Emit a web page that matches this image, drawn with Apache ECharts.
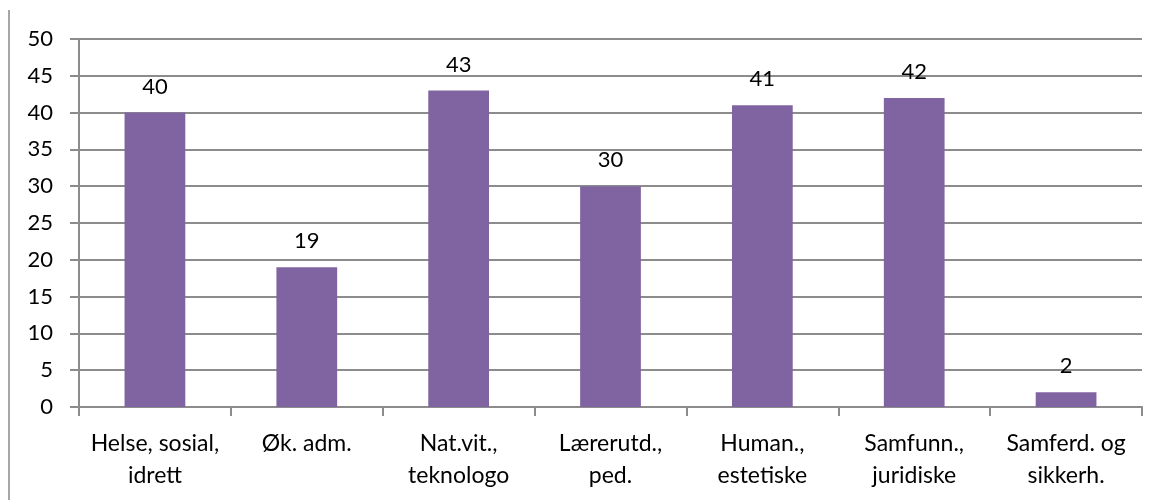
<!DOCTYPE html>
<html>
<head>
<meta charset="utf-8">
<script src="https://cdn.jsdelivr.net/npm/echarts@6/dist/echarts.min.js"></script>
<style>
  html, body { margin: 0; padding: 0; background: #fff; }
  #chart { width: 1160px; height: 500px; }
</style>
</head>
<body>
<div id="chart"></div>
<script>
// Fields of study and their counts
const categories = [
  'Helse, sosial,\nidrett',
  'Øk. adm.',
  'Nat.vit.,\nteknologo',
  'Lærerutd.,\nped.',
  'Human.,\nestetiske',
  'Samfunn.,\njuridiske',
  'Samferd. og\nsikkerh.'
];
const values = [40, 19, 43, 30, 41, 42, 2];
const yTicks = { min: 0, max: 50, interval: 5 };

const FONT = 'Lato, "Open Sans", sans-serif';
const GRID_COLOR = '#8c8c8c';

const chart = echarts.init(document.getElementById('chart'));
chart.setOption({
  backgroundColor: '#ffffff',
  animation: false,
  graphic: [{
    type: 'line',
    shape: { x1: 9, y1: 10, x2: 9, y2: 500 },
    style: { stroke: '#a6a6a6', lineWidth: 2 }
  }],
  grid: { left: 79, right: 18, top: 39, bottom: 93, containLabel: false },
  xAxis: {
    type: 'category',
    data: categories,
    axisLine: { show: true, lineStyle: { color: GRID_COLOR, width: 2 } },
    axisTick: { show: true, alignWithLabel: false, length: 9, lineStyle: { color: GRID_COLOR, width: 2 } },
    axisLabel: {
      interval: 0, color: '#000', fontFamily: FONT, fontSize: 23,
      lineHeight: 32, margin: 21
    }
  },
  yAxis: {
    type: 'value',
    min: yTicks.min, max: yTicks.max, interval: yTicks.interval,
    axisLine: { show: true, lineStyle: { color: GRID_COLOR, width: 2 } },
    axisTick: { show: true, length: 9, lineStyle: { color: GRID_COLOR, width: 2 } },
    axisLabel: { color: '#000', fontFamily: FONT, fontSize: 22, margin: 26 },
    splitLine: { show: true, lineStyle: { color: GRID_COLOR, width: 2 } }
  },
  series: [{
    type: 'bar',
    data: values,
    barWidth: '40%',
    itemStyle: { color: '#8064a2' },
    label: {
      show: true, position: 'top', distance: 15,
      color: '#000', fontFamily: FONT, fontSize: 22
    }
  }]
});
</script>
</body>
</html>
